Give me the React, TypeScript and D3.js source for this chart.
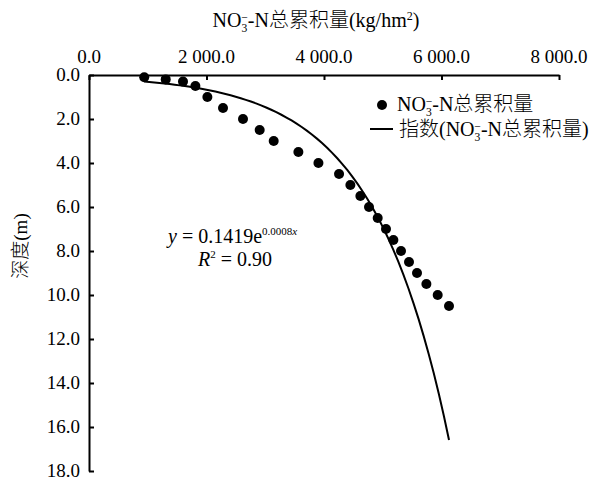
import { useEffect, useRef } from "react";
import * as d3 from "d3";

// NO3-N cumulative amount (kg/hm2) vs depth (m)
const amount = [940, 1306, 1600, 1811, 2015, 2281, 2621, 2905, 3144, 3564, 3905, 4256, 4449, 4619, 4766, 4914, 5055, 5181, 5311, 5447, 5583, 5743, 5935, 6128];
const depth = [0.1, 0.2, 0.3, 0.5, 1.0, 1.5, 2.0, 2.5, 3.0, 3.5, 4.0, 4.5, 5.0, 5.5, 6.0, 6.5, 7.0, 7.5, 8.0, 8.5, 9.0, 9.5, 10.0, 10.5];
const xTicks = [0, 2000, 4000, 6000, 8000];
const yTicks = [0, 2, 4, 6, 8, 10, 12, 14, 16, 18];
// exponential trendline y = a * e^(b x)
const fitA = 0.1419;
const fitB = 0.000777;

const SERIF = "'Liberation Serif', 'Times New Roman', 'Noto Sans CJK SC', serif";

export default function App() {
  const svgRef = useRef<SVGSVGElement>(null);

  useEffect(() => {
    const el = svgRef.current;
    if (!el) return;
    const W = 597, H = 480;
    d3.select(el).selectAll("*").remove();
    const svg = d3.select(el).attr("viewBox", `0 0 ${W} ${H}`)
      .attr("font-family", SERIF).attr("font-weight", 300);

    const x = d3.scaleLinear().domain([0, 8000]).range([89, 559]);
    const y = d3.scaleLinear().domain([0, 18]).range([75, 471]);

    const fmtX = (d: number) => d3.format(",.1f")(d).replace(/,/g, " ");
    const fmtY = d3.format(".1f");

    // top axis, ticks pointing inward
    const gx = svg.append("g").attr("transform", `translate(0,${y(0)})`)
      .call(d3.axisBottom(x).tickValues(xTicks).tickSize(5).tickSizeOuter(0).tickFormat(() => ""));
    gx.select(".domain").attr("stroke", "#000").attr("stroke-width", 2);
    gx.selectAll(".tick line").attr("stroke", "#000").attr("stroke-width", 2);

    svg.append("g").selectAll("text").data(xTicks).join("text")
      .attr("x", d => x(d)).attr("y", 63)
      .attr("text-anchor", "middle").attr("font-size", 19)
      .text(d => fmtX(d));

    // left axis, ticks pointing inward
    const gy = svg.append("g").attr("transform", `translate(${x(0)},0)`)
      .call(d3.axisRight(y).tickValues(yTicks).tickSize(5).tickSizeOuter(0).tickFormat(() => ""));
    gy.select(".domain").attr("stroke", "#000").attr("stroke-width", 2);
    gy.selectAll(".tick line").attr("stroke", "#000").attr("stroke-width", 2);

    svg.append("g").selectAll("text").data(yTicks).join("text")
      .attr("x", 80).attr("y", d => y(d) + 6)
      .attr("text-anchor", "end").attr("font-size", 19)
      .text(d => fmtY(d));

    // trendline
    const [xmin, xmax] = d3.extent(amount) as [number, number];
    const fitX = d3.range(0, 61).map(i => xmin + (xmax - xmin) * i / 60);
    const line = d3.line<number>().x(d => x(d)).y(d => y(fitA * Math.exp(fitB * d)));
    svg.append("path").datum(fitX)
      .attr("fill", "none").attr("stroke", "#000").attr("stroke-width", 2).attr("d", line);

    // points
    svg.append("g").selectAll("circle").data(amount).join("circle")
      .attr("cx", d => x(d)).attr("cy", (d, i) => y(depth[i])).attr("r", 5).attr("fill", "#000");

    // NO3- label helper
    const no3 = (t: d3.Selection<SVGTextElement, unknown, null, undefined>, rest: string, fs: number) => {
      t.append("tspan").text("NO");
      t.append("tspan").attr("font-size", fs * 0.58).attr("dy", fs * 0.25).text("3");
      t.append("tspan").attr("font-size", fs * 0.58).attr("dx", -fs * 0.3).attr("dy", -fs * 0.55).text("−");
      t.append("tspan").attr("dy", fs * 0.3).text(rest);
    };

    // title
    const title = svg.append("text").attr("x", 316).attr("y", 27).attr("text-anchor", "middle")
      .attr("font-size", 20);
    no3(title, "-N总累积量(kg/hm", 20);
    title.append("tspan").attr("font-size", 12).attr("dy", -7).text("2");
    title.append("tspan").attr("dy", 7).text(")");

    // y title
    svg.append("text").attr("transform", `translate(27,246) rotate(-90)`).attr("text-anchor", "middle")
      .attr("font-size", 19).text("深度(m)");

    // legend
    svg.append("circle").attr("cx", 382).attr("cy", 105).attr("r", 5).attr("fill", "#000");
    const l1 = svg.append("text").attr("x", 397).attr("y", 111).attr("font-size", 20);
    no3(l1, "-N总累积量", 20);
    svg.append("line").attr("x1", 370).attr("x2", 393).attr("y1", 129).attr("y2", 129)
      .attr("stroke", "#000").attr("stroke-width", 2);
    const l2 = svg.append("text").attr("x", 399).attr("y", 136).attr("font-size", 20);
    l2.append("tspan").text("指数(");
    no3(l2, "-N总累积量)", 20);

    // equation
    const eq = svg.append("text").attr("x", 168).attr("y", 243).attr("font-size", 20);
    eq.append("tspan").attr("font-style", "italic").text("y");
    eq.append("tspan").text(" = 0.1419e");
    eq.append("tspan").attr("font-size", 11).attr("dy", -8).text("0.0008");
    eq.append("tspan").attr("font-size", 11).attr("font-style", "italic").text("x");
    const r2 = svg.append("text").attr("x", 198).attr("y", 266).attr("font-size", 20);
    r2.append("tspan").attr("font-style", "italic").text("R");
    r2.append("tspan").attr("font-size", 11).attr("dy", -8).text("2");
    r2.append("tspan").attr("dy", 8).text(" = 0.90");
  }, []);

  return (
    <svg ref={svgRef} width={597} height={480}
      style={{ position: "absolute", left: 0, top: 0, background: "#fff" }} />
  );
}
